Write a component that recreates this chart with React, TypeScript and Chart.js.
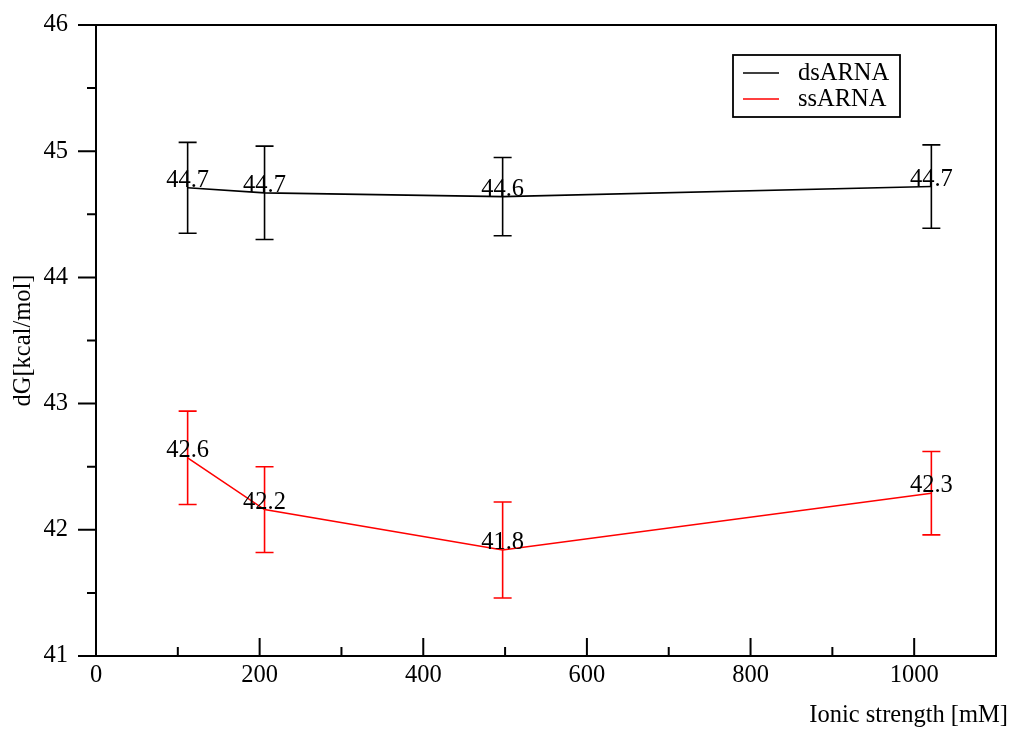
import { useEffect, useRef } from "react";
import { Chart, registerables } from "chart.js";

Chart.register(...registerables);

const ionicStrength = [112, 206, 497, 1021];
const dsARNA = [44.71, 44.67, 44.64, 44.72];
const dsARNAErr = [0.36, 0.37, 0.31, 0.33];
const ssARNA = [42.57, 42.16, 41.84, 42.29];
const ssARNAErr = [0.37, 0.34, 0.38, 0.33];
const seriesNames = ["dsARNA", "ssARNA"];
const seriesColors = ["#000000", "#ff0000"];
const xMajorTicks = [0, 200, 400, 600, 800, 1000];
const xMinorTicks = [100, 300, 500, 700, 900];
const yMajorTicks = [41, 42, 43, 44, 45, 46];
const yMinorTicks = [41.5, 42.5, 43.5, 44.5, 45.5];

const FONT = '"Liberation Serif", "Times New Roman", serif';
const FS = 24.5;

const framePlugin = {
  id: "frameTicks",
  afterDraw(chart: any) {
    const { ctx, chartArea, scales } = chart;
    const xs = scales.x;
    const ys = scales.y;
    ctx.save();
    ctx.strokeStyle = "#000";
    ctx.lineWidth = 2;
    ctx.strokeRect(chartArea.left, chartArea.top, chartArea.right - chartArea.left, chartArea.bottom - chartArea.top);
    ctx.beginPath();
    xMajorTicks.forEach((v) => {
      const px = xs.getPixelForValue(v);
      ctx.moveTo(px, chartArea.bottom);
      ctx.lineTo(px, chartArea.bottom - 18);
    });
    xMinorTicks.forEach((v) => {
      const px = xs.getPixelForValue(v);
      ctx.moveTo(px, chartArea.bottom);
      ctx.lineTo(px, chartArea.bottom - 9);
    });
    yMajorTicks.forEach((v) => {
      const py = ys.getPixelForValue(v);
      ctx.moveTo(chartArea.left, py);
      ctx.lineTo(chartArea.left - 18, py);
    });
    yMinorTicks.forEach((v) => {
      const py = ys.getPixelForValue(v);
      ctx.moveTo(chartArea.left, py);
      ctx.lineTo(chartArea.left - 9, py);
    });
    ctx.stroke();

    // legend
    const bl = chartArea.right - 263;
    const bt = chartArea.top + 30;
    const bw = 167;
    const bh = 62;
    ctx.fillStyle = "#fff";
    ctx.fillRect(bl, bt, bw, bh);
    ctx.lineWidth = 1.8;
    ctx.strokeRect(bl, bt, bw, bh);
    ctx.font = `${FS}px ${FONT}`;
    ctx.textAlign = "left";
    ctx.textBaseline = "middle";
    chart.data.datasets.forEach((ds: any, i: number) => {
      const cy = bt + 18 + i * 26;
      ctx.strokeStyle = ds.borderColor;
      ctx.lineWidth = 1.5;
      ctx.beginPath();
      ctx.moveTo(bl + 10, cy);
      ctx.lineTo(bl + 46, cy);
      ctx.stroke();
      ctx.fillStyle = "#000";
      ctx.fillText(ds.label, bl + 65, cy + 1);
    });
    ctx.restore();
  },
};

const errorPlugin = {
  id: "errorBarsLabels",
  afterDatasetsDraw(chart: any) {
    const { ctx, scales } = chart;
    const xs = scales.x;
    const ys = scales.y;
    ctx.save();
    chart.data.datasets.forEach((ds: any) => {
      ctx.strokeStyle = ds.borderColor;
      ctx.lineWidth = 1.6;
      ctx.beginPath();
      ds.data.forEach((p: any, j: number) => {
        const e = ds.errors[j];
        const px = xs.getPixelForValue(p.x);
        const pt = ys.getPixelForValue(p.y + e);
        const pb = ys.getPixelForValue(p.y - e);
        ctx.moveTo(px, pt);
        ctx.lineTo(px, pb);
        ctx.moveTo(px - 9, pt);
        ctx.lineTo(px + 9, pt);
        ctx.moveTo(px - 9, pb);
        ctx.lineTo(px + 9, pb);
      });
      ctx.stroke();
    });
    ctx.font = `${FS}px ${FONT}`;
    ctx.fillStyle = "#000";
    ctx.textAlign = "center";
    ctx.textBaseline = "alphabetic";
    chart.data.datasets.forEach((ds: any) => {
      ds.data.forEach((p: any) => {
        const px = xs.getPixelForValue(p.x);
        const py = ys.getPixelForValue(p.y);
        ctx.fillText(p.y.toFixed(1), px, py - 1);
      });
    });
    ctx.restore();
  },
};

export default function App() {
  const ref = useRef<HTMLCanvasElement | null>(null);
  useEffect(() => {
    if (!ref.current) return;
    const chart = new Chart(ref.current, {
      type: "line",
      data: {
        datasets: [
          {
            label: seriesNames[0],
            data: ionicStrength.map((x, i) => ({ x, y: dsARNA[i] })),
            errors: dsARNAErr,
            borderColor: seriesColors[0],
            backgroundColor: seriesColors[0],
            borderWidth: 1.6,
            pointRadius: 0,
            tension: 0,
          } as any,
          {
            label: seriesNames[1],
            data: ionicStrength.map((x, i) => ({ x, y: ssARNA[i] })),
            errors: ssARNAErr,
            borderColor: seriesColors[1],
            backgroundColor: seriesColors[1],
            borderWidth: 1.6,
            pointRadius: 0,
            tension: 0,
          } as any,
        ],
      },
      options: {
        animation: false,
        responsive: false,
        layout: { padding: { left: 0, top: 25, right: 2, bottom: 0 } },
        plugins: {
          legend: { display: false },
          tooltip: { enabled: false },
          title: {
            display: true,
            text: "Ionic strength [mM]",
            position: "bottom",
            align: "end",
            color: "#000",
            font: { family: FONT, size: FS, weight: "normal" },
            padding: { top: 7, bottom: 1 },
          },
        },
        scales: {
          x: {
            type: "linear",
            min: 0,
            max: 1100,
            grid: { display: false, drawTicks: false },
            border: { display: false },
            ticks: {
              stepSize: 200,
              includeBounds: false,
              padding: 5,
              color: "#000",
              font: { family: FONT, size: FS },
              callback: (v: any) => String(v),
            },
            afterFit: (s: any) => {
              s.height = 37.6;
            },
          },
          y: {
            type: "linear",
            min: 41,
            max: 46,
            grid: { display: false, drawTicks: false },
            border: { display: false },
            ticks: {
              stepSize: 1,
              padding: 28,
              color: "#000",
              font: { family: FONT, size: FS },
              callback: (v: any) => String(v),
            },
            title: {
              display: true,
              text: "dG[kcal/mol]",
              color: "#000",
              font: { family: FONT, size: FS },
              padding: { top: 9, bottom: 0 },
            },
            afterFit: (s: any) => {
              s.width = 96;
              s.paddingTop = 0;
              s.paddingBottom = 0;
            },
          },
          y2: {
            type: "linear",
            position: "right",
            grid: { display: false, drawTicks: false },
            border: { display: false },
            ticks: { display: false },
            afterFit: (s: any) => {
              s.width = 12;
              s.paddingTop = 0;
              s.paddingBottom = 0;
            },
          },
        },
      },
      plugins: [errorPlugin, framePlugin],
    } as any);
    return () => chart.destroy();
  }, []);
  return (
    <div style={{ position: "absolute", left: 0, top: 0, width: 1010, height: 731, background: "#fff" }}>
      <canvas ref={ref} width={1010} height={731} style={{ display: "block" }} />
    </div>
  );
}
